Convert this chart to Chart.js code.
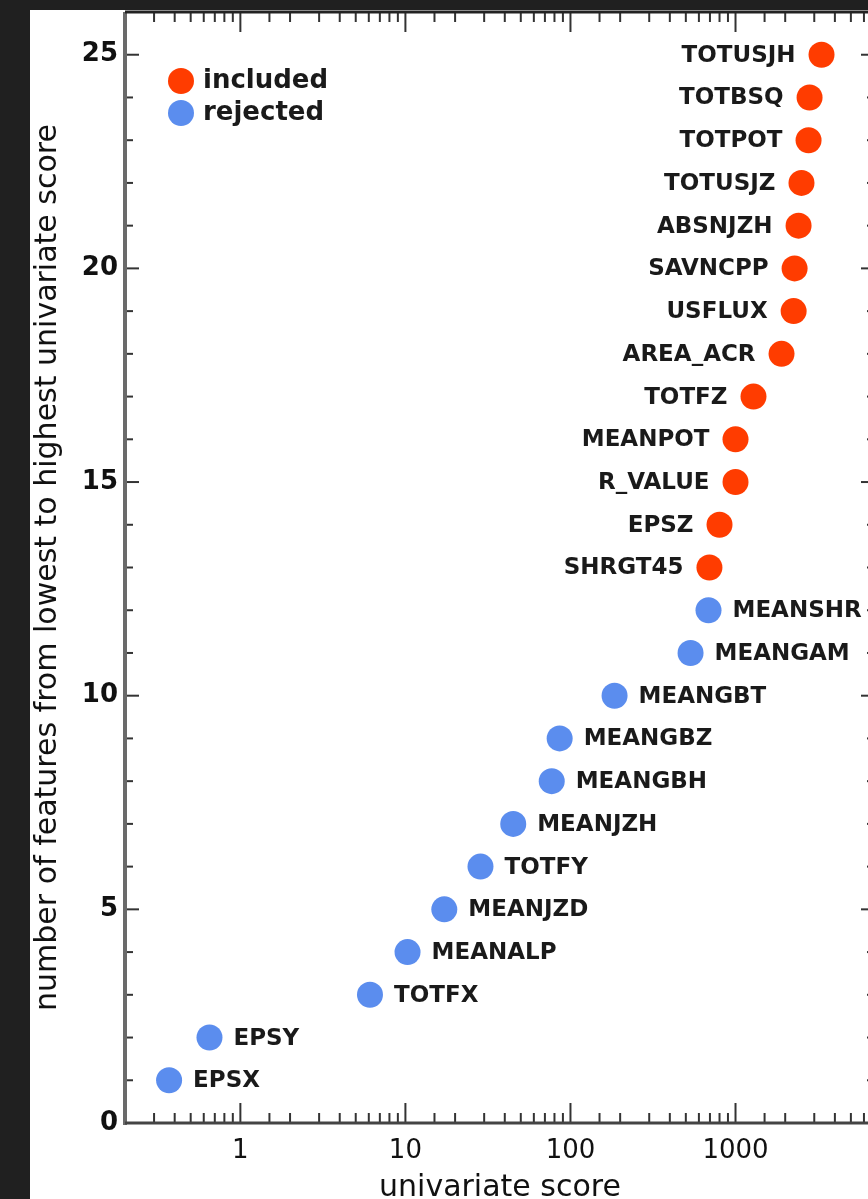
<!DOCTYPE html>
<html>
<head>
<meta charset="utf-8">
<script src="https://cdn.jsdelivr.net/npm/chart.js@4"></script>
<style>
  html, body { margin: 0; padding: 0; background: #202020; overflow: hidden; }
  #panel { position: absolute; left: 30px; top: 10px; width: 850px; height: 1200px; background: #fff; }
  canvas { display: block; }
</style>
</head>
<body>
<div id="panel"><canvas id="scoreChart" width="850" height="1200"></canvas></div>
<script>
// rejected features (blue), lowest to highest score
const rejectedNames = ['EPSX', 'EPSY', 'TOTFX', 'MEANALP', 'MEANJZD', 'TOTFY', 'MEANJZH', 'MEANGBH', 'MEANGBZ', 'MEANGBT', 'MEANGAM', 'MEANSHR'];
const rejectedScores = [0.37, 0.65, 6.1, 10.3, 17.2, 28.5, 45, 77, 86, 185, 534, 686];
const rejectedRanks = [1, 2, 3, 4, 5, 6, 7, 8, 9, 10, 11, 12];

// included features (red)
const includedNames = ['SHRGT45', 'EPSZ', 'R_VALUE', 'MEANPOT', 'TOTFZ', 'AREA_ACR', 'USFLUX', 'SAVNCPP', 'ABSNJZH', 'TOTUSJZ', 'TOTPOT', 'TOTBSQ', 'TOTUSJH'];
const includedScores = [695, 800, 1000, 1000, 1285, 1900, 2250, 2280, 2410, 2510, 2770, 2810, 3320];
const includedRanks = [13, 14, 15, 16, 17, 18, 19, 20, 21, 22, 23, 24, 25];

const xTickValues = [1, 10, 100, 1000];

const RED = '#ff3c00';
const BLUE = '#5b8dee';

function toPoints(scores, ranks) {
    return scores.map((s, i) => ({ x: s, y: ranks[i] }));
}

function isDecade(v) {
    const l = Math.log10(v);
    return Math.abs(l - Math.round(l)) < 1e-9;
}

// labels next to each point
const pointLabels = {
    id: 'pointLabels',
    afterDatasetsDraw(chart) {
        const ctx = chart.ctx;
        ctx.save();
        ctx.font = 'bold 23px "DejaVu Sans"';
        ctx.fillStyle = '#1a1a1a';
        ctx.textBaseline = 'middle';
        chart.data.datasets.forEach((ds, di) => {
            const meta = chart.getDatasetMeta(di);
            meta.data.forEach((pt, i) => {
                if (ds.labelSide === 'left') {
                    ctx.textAlign = 'right';
                    ctx.fillText(ds.names[i], pt.x - 26, pt.y + 1);
                } else {
                    ctx.textAlign = 'left';
                    ctx.fillText(ds.names[i], pt.x + 24, pt.y + 1);
                }
            });
        });
        ctx.restore();
    }
};

// legend inside the plot, top left
const innerLegend = {
    id: 'innerLegend',
    afterDraw(chart) {
        const ctx = chart.ctx;
        const a = chart.chartArea;
        ctx.save();
        ctx.font = 'bold 26px "DejaVu Sans"';
        ctx.textBaseline = 'middle';
        ctx.textAlign = 'left';
        chart.data.datasets.forEach((ds, i) => {
            const cx = a.left + 56;
            const cy = a.top + 69 + i * 32;
            ctx.fillStyle = ds.backgroundColor;
            ctx.beginPath();
            ctx.arc(cx, cy, 13, 0, Math.PI * 2);
            ctx.fill();
            ctx.fillStyle = '#1a1a1a';
            ctx.fillText(ds.label, cx + 22, cy);
        });
        ctx.restore();
    }
};

// inward ticks on all four sides + frame
const axisFrame = {
    id: 'axisFrame',
    afterDraw(chart) {
        const ctx = chart.ctx;
        const a = chart.chartArea;
        const x = chart.scales.x;
        const y = chart.scales.y;
        const line = (x1, y1, x2, y2) => {
            ctx.beginPath();
            ctx.moveTo(x1, y1);
            ctx.lineTo(x2, y2);
            ctx.stroke();
        };
        ctx.save();
        ctx.strokeStyle = '#333';
        ctx.lineWidth = 2;
        x.ticks.forEach(t => {
            const px = x.getPixelForValue(t.value);
            const len = isDecade(t.value) ? 20 : 10;
            line(px, a.bottom, px, a.bottom - len);
            line(px, a.top, px, a.top + len);
        });
        y.ticks.forEach(t => {
            if (t.value <= 0 || t.value >= 26) return;
            const py = y.getPixelForValue(t.value);
            const len = t.value % 5 === 0 ? 14 : 8;
            line(a.left, py, a.left + len, py);
            line(a.right, py, a.right - len, py);
        });
        ctx.lineWidth = 4;
        ctx.strokeStyle = '#6a6a6a';
        line(a.left, a.top, a.left, a.bottom + 2);
        ctx.lineWidth = 3;
        ctx.strokeStyle = '#444';
        line(a.left, a.bottom, a.right, a.bottom);
        ctx.strokeStyle = '#222';
        line(a.left, a.top, a.right, a.top);
        line(a.right, a.top, a.right, a.bottom);
        ctx.restore();
    }
};

const chart = new Chart(document.getElementById('scoreChart').getContext('2d'), {
    type: 'scatter',
    data: {
        datasets: [{
            label: 'included',
            names: includedNames,
            labelSide: 'left',
            data: toPoints(includedScores, includedRanks),
            backgroundColor: RED,
            borderWidth: 0,
            pointRadius: 13
        }, {
            label: 'rejected',
            names: rejectedNames,
            labelSide: 'right',
            data: toPoints(rejectedScores, rejectedRanks),
            backgroundColor: BLUE,
            borderWidth: 0,
            pointRadius: 13
        }]
    },
    options: {
        responsive: false,
        animation: false,
        devicePixelRatio: 1,
        layout: { autoPadding: false, padding: { top: 2, right: 5, left: 0, bottom: 0 } },
        plugins: {
            legend: { display: false },
            tooltip: { enabled: false }
        },
        scales: {
            x: {
                type: 'logarithmic',
                min: 0.2,
                max: 7000,
                grid: { display: false, drawTicks: false },
                border: { display: false },
                ticks: {
                    autoSkip: false,
                    maxRotation: 0,
                    padding: 13,
                    color: '#111',
                    font: { family: 'DejaVu Sans', size: 26 },
                    callback: (v) => xTickValues.includes(v) ? String(v) : ''
                },
                title: {
                    display: true,
                    text: 'univariate score',
                    color: '#111',
                    font: { family: 'DejaVu Sans', size: 30 },
                    padding: { top: 0, bottom: 4 }
                },
                afterFit: (s) => {
                    s.height = 87;
                    s.paddingLeft = 0;
                    s.paddingRight = 0;
                }
            },
            y: {
                min: 0,
                max: 26,
                grid: { display: false, drawTicks: false },
                border: { display: false },
                ticks: {
                    stepSize: 1,
                    autoSkip: false,
                    padding: 7,
                    color: '#111',
                    font: { family: 'DejaVu Sans', size: 26, weight: 'bold' },
                    callback: (v) => (v % 5 === 0 && v <= 25) ? String(v) : ''
                },
                title: {
                    display: true,
                    text: 'number of features from lowest to highest univariate score',
                    color: '#111',
                    font: { family: 'DejaVu Sans', size: 30 },
                    padding: 0
                },
                afterFit: (s) => {
                    s.width = 95;
                    s.paddingTop = 0;
                    s.paddingBottom = 0;
                }
            }
        }
    },
    plugins: [pointLabels, innerLegend, axisFrame]
});
</script>
</body>
</html>
